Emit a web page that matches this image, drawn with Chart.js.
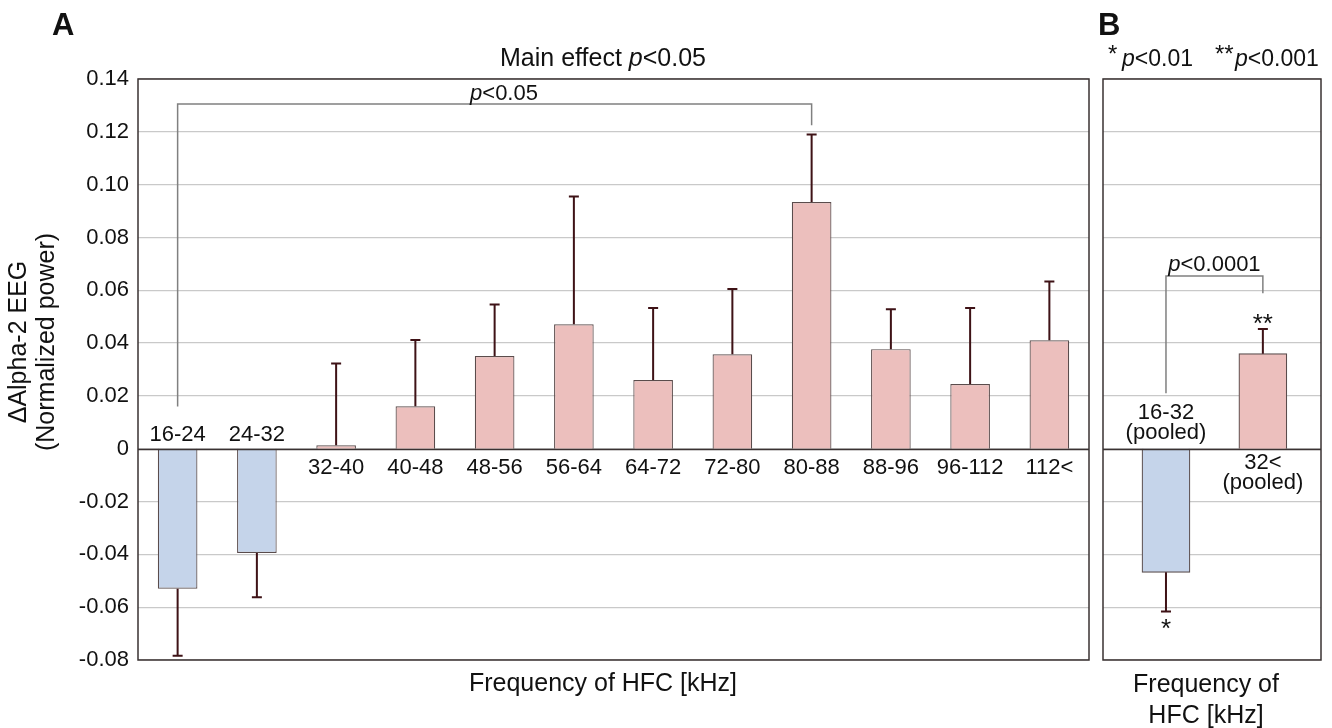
<!DOCTYPE html>
<html>
<head>
<meta charset="utf-8">
<script src="https://cdn.jsdelivr.net/npm/chart.js@4.4.0/dist/chart.umd.min.js"></script>
<style>
  body { margin: 0; background: #fff; width: 1332px; height: 728px; position: relative; overflow: hidden; }
  #wrapA { position: absolute; left: 0; top: 0; width: 1095px; height: 728px; }
  #wrapB { position: absolute; left: 1095px; top: 0; width: 237px; height: 728px; }
</style>
</head>
<body>
<div id="wrapA"><canvas id="chartA"></canvas></div>
<div id="wrapB"><canvas id="chartB"></canvas></div>
<script>
// panel A data
const categoriesA = ["16-24", "24-32", "32-40", "40-48", "48-56", "56-64", "64-72", "72-80", "80-88", "88-96", "96-112", "112<"];
const meansA = [-0.053, -0.0395, 0.0013, 0.0161, 0.0351, 0.0471, 0.026, 0.0358, 0.0934, 0.0377, 0.0245, 0.0411];
const semA = [0.0254, 0.0167, 0.031, 0.0251, 0.0195, 0.0484, 0.0273, 0.0247, 0.0256, 0.0151, 0.0288, 0.0222];
const groupA = ["low", "low", "high", "high", "high", "high", "high", "high", "high", "high", "high", "high"];

// panel B data
const categoriesB = [["16-32", "(pooled)"], ["32<", "(pooled)"]];
const meansB = [-0.0468, 0.036];
const semB = [0.0148, 0.0093];
const groupB = ["low", "high"];
const starsB = ["*", "**"];

const yMin = -0.08, yMax = 0.14, yStep = 0.02;

const FONT = '"Liberation Sans", Arial, sans-serif';
const BLUE = "rgb(197,212,234)";
const PINK = "rgb(236,191,189)";
const ERR = "rgb(62,18,22)";
const GRID = "#c9c9c9";
const FRAME = "#3a3232";
const BRACKET = "#808080";

function fillFor(g) { return g === "low" ? BLUE : PINK; }

// draw text made of parts [text, italic]
function richText(ctx, parts, x, y, size, align) {
  let total = 0;
  const widths = parts.map(p => {
    ctx.font = (p[1] ? "italic " : "") + size + "px " + FONT;
    const w = ctx.measureText(p[0]).width;
    total += w;
    return w;
  });
  let cx = align === "center" ? x - total / 2 : align === "right" ? x - total : x;
  ctx.textAlign = "left";
  parts.forEach((p, i) => {
    ctx.font = (p[1] ? "italic " : "") + size + "px " + FONT;
    ctx.fillText(p[0], cx, y);
    cx += widths[i];
  });
}

function drawErrorBars(chart, means, sems) {
  const ctx = chart.ctx;
  const y = chart.scales.y;
  const meta = chart.getDatasetMeta(0);
  ctx.save();
  ctx.strokeStyle = ERR;
  ctx.lineWidth = 2;
  meta.data.forEach((bar, i) => {
    const m = means[i];
    const end = m >= 0 ? m + sems[i] : m - sems[i];
    const y0 = y.getPixelForValue(m);
    const y1 = y.getPixelForValue(end);
    ctx.beginPath();
    ctx.moveTo(bar.x, y0);
    ctx.lineTo(bar.x, y1);
    ctx.moveTo(bar.x - 5, y1);
    ctx.lineTo(bar.x + 5, y1);
    ctx.stroke();
  });
  ctx.restore();
}

function drawFrame(chart) {
  const ctx = chart.ctx, a = chart.chartArea, y = chart.scales.y;
  ctx.save();
  const z = Math.round(y.getPixelForValue(0)) + 0.5;
  ctx.strokeStyle = FRAME;
  ctx.lineWidth = 1.5;
  ctx.beginPath();
  ctx.moveTo(a.left, z);
  ctx.lineTo(a.right, z);
  ctx.stroke();
  ctx.strokeRect(a.left, a.top, a.right - a.left, a.bottom - a.top);
  ctx.restore();
}

function drawBracket(chart, i0, i1, top, v0, v1) {
  const ctx = chart.ctx, y = chart.scales.y;
  const meta = chart.getDatasetMeta(0);
  const x0 = meta.data[i0].x, x1 = meta.data[i1].x;
  ctx.save();
  ctx.strokeStyle = BRACKET;
  ctx.lineWidth = 1.5;
  ctx.beginPath();
  ctx.moveTo(x0, y.getPixelForValue(v0));
  ctx.lineTo(x0, y.getPixelForValue(top));
  ctx.lineTo(x1, y.getPixelForValue(top));
  ctx.lineTo(x1, y.getPixelForValue(v1));
  ctx.stroke();
  ctx.restore();
  return { x0, x1, y: y.getPixelForValue(top) };
}

const gridOpts = {
  color: (c) => (c.tick && c.tick.value === 0 ? FRAME : GRID),
  lineWidth: 1.2,
  drawTicks: false
};

const panelA = {
  id: "panelA",
  afterDatasetsDraw(chart) {
    const ctx = chart.ctx, y = chart.scales.y;
    const meta = chart.getDatasetMeta(0);
    drawErrorBars(chart, meansA, semA);
    drawFrame(chart);

    // bracket between 16-24 and 80-88
    const b = drawBracket(chart, 0, 8, 0.1305, 0.016, 0.1225);
    ctx.save();
    ctx.fillStyle = "#111";
    ctx.textBaseline = "alphabetic";
    richText(ctx, [["p", true], ["<0.05", false]], 504, b.y - 4, 22, "center");

    // category labels next to zero line
    const z = y.getPixelForValue(0);
    ctx.font = "22px " + FONT;
    ctx.textAlign = "center";
    ctx.textBaseline = "middle";
    categoriesA.forEach((c, i) => {
      const yy = meansA[i] < 0 ? z - 14 : z + 19;
      ctx.fillText(c, meta.data[i].x, yy);
    });

    // titles
    ctx.font = "bold 31px " + FONT;
    ctx.textAlign = "left";
    ctx.textBaseline = "alphabetic";
    ctx.fillText("A", 52, 35);
    richText(ctx, [["Main effect ", false], ["p", true], ["<0.05", false]], 603, 66, 25, "center");
    ctx.font = "25px " + FONT;
    ctx.textAlign = "center";
    ctx.fillText("Frequency of HFC [kHz]", 603, 691);

    // y title
    ctx.save();
    ctx.translate(0, 342);
    ctx.rotate(-Math.PI / 2);
    ctx.textAlign = "center";
    ctx.textBaseline = "middle";
    ctx.font = "25px " + FONT;
    ctx.fillText("\u0394Alpha-2 EEG", 0, 19);
    ctx.fillText("(Normalized power)", 0, 47);
    ctx.restore();
    ctx.restore();
  }
};

const panelB = {
  id: "panelB",
  afterDatasetsDraw(chart) {
    const ctx = chart.ctx, y = chart.scales.y;
    const meta = chart.getDatasetMeta(0);
    drawErrorBars(chart, meansB, semB);
    drawFrame(chart);

    const b = drawBracket(chart, 0, 1, 0.0654, 0.021, 0.0589);
    ctx.save();
    ctx.fillStyle = "#111";
    ctx.textBaseline = "alphabetic";
    richText(ctx, [["p", true], ["<0.0001", false]], (b.x0 + b.x1) / 2, b.y - 5, 22, "center");

    // category labels
    const z = y.getPixelForValue(0);
    ctx.font = "22px " + FONT;
    ctx.textAlign = "center";
    ctx.textBaseline = "middle";
    categoriesB.forEach((lines, i) => {
      const x = meta.data[i].x;
      if (meansB[i] < 0) {
        ctx.fillText(lines[0], x, z - 36);
        ctx.fillText(lines[1], x, z - 16);
      } else {
        ctx.fillText(lines[0], x, z + 14);
        ctx.fillText(lines[1], x, z + 34);
      }
    });

    // significance stars
    ctx.font = "26px " + FONT;
    starsB.forEach((s, i) => {
      const m = meansB[i];
      const end = y.getPixelForValue(m >= 0 ? m + semB[i] : m - semB[i]);
      ctx.fillText(s, meta.data[i].x, m >= 0 ? end - 4 : end + 18);
    });

    // header
    ctx.textBaseline = "alphabetic";
    ctx.textAlign = "left";
    ctx.font = "bold 31px " + FONT;
    ctx.fillText("B", 3, 35);
    ctx.font = "24px " + FONT;
    ctx.fillText("*", 13, 62);
    richText(ctx, [["p", true], ["<0.01", false]], 27, 66, 23, "left");
    ctx.font = "24px " + FONT;
    ctx.textAlign = "left";
    ctx.fillText("**", 120, 62);
    richText(ctx, [["p", true], ["<0.001", false]], 140, 66, 23, "left");

    ctx.font = "25px " + FONT;
    ctx.textAlign = "center";
    ctx.fillText("Frequency of", 111, 692);
    ctx.fillText("HFC [kHz]", 111, 723);
    ctx.restore();
  }
};

new Chart(document.getElementById("chartA"), {
  type: "bar",
  data: {
    labels: categoriesA,
    datasets: [{
      data: meansA,
      backgroundColor: groupA.map(fillFor),
      borderColor: "#5a4c4c",
      borderWidth: 1.2,
      barPercentage: 0.5,
      categoryPercentage: 1.0
    }]
  },
  options: {
    responsive: true,
    maintainAspectRatio: false,
    animation: false,
    layout: { padding: { top: 79, bottom: 68, right: 6, left: 0 } },
    plugins: { legend: { display: false }, tooltip: { enabled: false } },
    scales: {
      x: { display: false },
      y: {
        min: yMin,
        max: yMax,
        afterFit: (s) => { s.width = 138; },
        ticks: {
          stepSize: yStep,
          padding: 9,
          color: "#111",
          font: { family: FONT, size: 22 },
          callback: (v) => (Math.abs(v) < 1e-9 ? "0" : v.toFixed(2))
        },
        grid: gridOpts,
        border: { display: false }
      }
    }
  },
  plugins: [panelA]
});

new Chart(document.getElementById("chartB"), {
  type: "bar",
  data: {
    datasets: [{
      data: meansB.map((v, i) => ({ x: i, y: v })),
      backgroundColor: groupB.map(fillFor),
      borderColor: "#5a4c4c",
      borderWidth: 1.2,
      barThickness: 48
    }]
  },
  options: {
    responsive: true,
    maintainAspectRatio: false,
    animation: false,
    layout: { padding: { top: 79, bottom: 68, right: 11, left: 8 } },
    plugins: { legend: { display: false }, tooltip: { enabled: false } },
    scales: {
      x: { type: "linear", min: -0.65, max: 1.6, offset: false, display: false },
      y: {
        min: yMin,
        max: yMax,
        afterFit: (s) => { s.width = 0; },
        ticks: { stepSize: yStep, display: false },
        grid: gridOpts,
        border: { display: false }
      }
    }
  },
  plugins: [panelB]
});
</script>
</body>
</html>
